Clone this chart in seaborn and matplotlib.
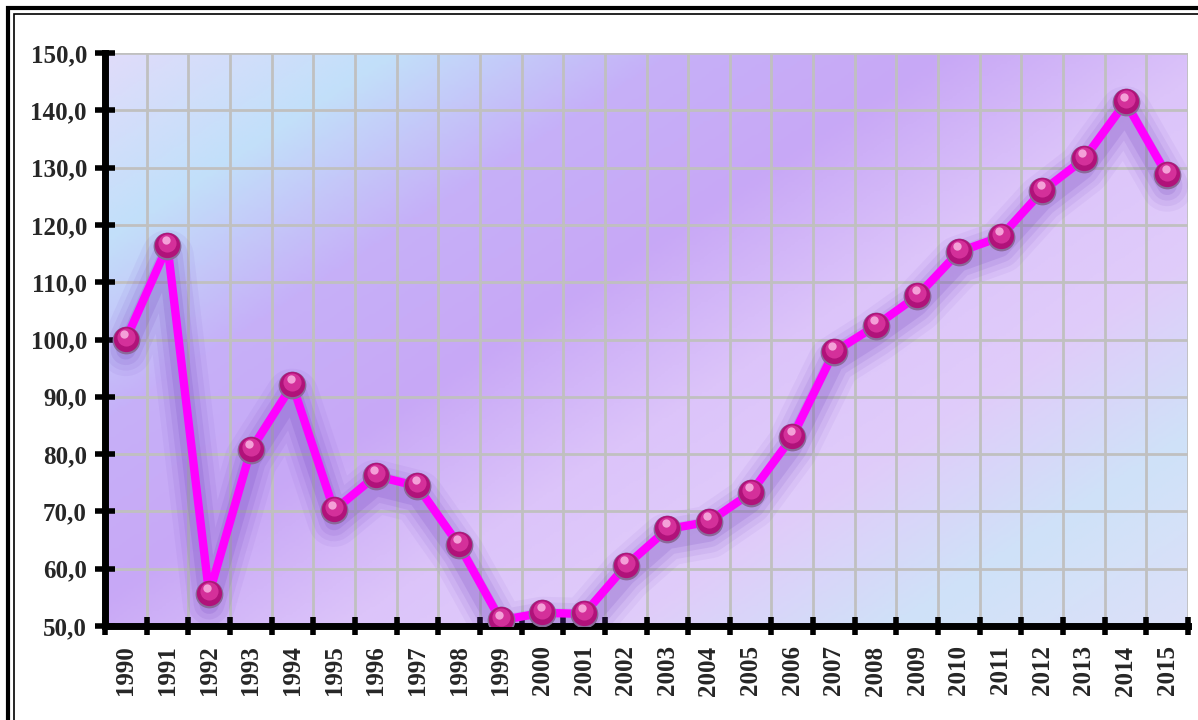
import numpy as np
import pandas as pd
import seaborn as sns
import matplotlib.pyplot as plt
from matplotlib.colors import LinearSegmentedColormap
from matplotlib.patches import Rectangle
from matplotlib.ticker import FixedLocator, FuncFormatter

years = [str(y) for y in range(1990, 2016)]
values = [100.0, 116.3, 55.6, 80.7, 92.1, 70.2, 76.2, 74.4, 64.1, 51.0,
          52.3, 52.1, 60.5, 66.9, 68.2, 73.2, 83.0, 97.8, 102.4, 107.6,
          115.3, 117.9, 125.9, 131.5, 141.4, 128.7]

df = pd.DataFrame({"year": years, "value": values, "pos": np.arange(len(years))})

sns.set_style("white")
plt.rcParams["font.family"] = ["Liberation Serif", "DejaVu Serif"]

fig = plt.figure(figsize=(11.98, 7.2), dpi=100)
ax = fig.add_axes([105 / 1198, 94 / 720, 1083 / 1198, 573 / 720])

# gradient background
bg_cmap = LinearSegmentedColormap.from_list(
    "bg", ["#e0dcfa", "#c2e0fa", "#c6b0f8", "#c8a8f6", "#dcc4fa", "#e0ccfa", "#cfe2f8", "#dce0f8"])
gx, gy = np.meshgrid(np.linspace(0, 1, 300), np.linspace(1, 0, 200))
grad = 0.55 * gx + 0.45 * (1 - gy)
ax.imshow(grad, cmap=bg_cmap, extent=[-0.5, 25.5, 50, 150], aspect="auto", zorder=0)

# soft glow behind line
for lw, a in [(38, 0.06), (30, 0.08), (22, 0.10), (14, 0.14)]:
    ax.plot(df["pos"], df["value"] - 1.8, color="#6a38b8", lw=lw, alpha=a,
            solid_capstyle="round", solid_joinstyle="round", zorder=2)

sns.lineplot(data=df, x="pos", y="value", color="#ff00ff", lw=6, ax=ax, zorder=3)

# sphere markers
ax.scatter(df["pos"], df["value"], s=400, color="#8a6a9a", zorder=4, linewidths=0)
ax.scatter(df["pos"], df["value"] + 0.15, s=330, color="#b0127a", zorder=5, linewidths=0)
ax.scatter(df["pos"], df["value"] + 0.5, s=170, color="#d4309a", zorder=6, linewidths=0)
ax.scatter(df["pos"] - 0.04, df["value"] + 1.0, s=36, color="#f4a0d8", zorder=7, linewidths=0)

ax.set_xlim(-0.5, 25.5)
ax.set_ylim(50, 150)

ax.xaxis.set_major_locator(FixedLocator(np.arange(len(years))))
ax.set_xticklabels(years, rotation=90, fontsize=18, fontweight="bold")
ax.xaxis.set_minor_locator(FixedLocator(np.arange(-0.5, 26, 1)))
ax.set_yticks(np.arange(50, 151, 10))
ax.yaxis.set_major_formatter(FuncFormatter(lambda v, p: f"{v:.1f}".replace(".", ",")))
for lab in ax.get_yticklabels():
    lab.set_fontsize(18)
    lab.set_fontweight("bold")

ax.tick_params(axis="x", which="major", bottom=True, length=0, pad=14)
ax.tick_params(axis="x", which="minor", bottom=True, length=13, width=4,
               direction="inout", color="black")
ax.tick_params(axis="y", which="major", left=True, length=14, width=4,
               direction="inout", color="black", pad=6)
ax.set_xlabel("")
ax.set_ylabel("")

ax.grid(True, which="minor", axis="x", color="#c0c0c0", lw=2)
ax.grid(True, which="major", axis="y", color="#c0c0c0", lw=2)
ax.grid(False, which="major", axis="x")
ax.set_axisbelow(True)

for side in ["top", "right"]:
    ax.spines[side].set_visible(False)
for side in ["left", "bottom"]:
    ax.spines[side].set_linewidth(5)
    ax.spines[side].set_color("black")

# double frame around figure
fig.patches.append(Rectangle((8 / 1198, -0.02), 1.2, 1.0 - 8 / 720 + 0.02, transform=fig.transFigure,
                             fill=False, lw=3, ec="black"))
fig.patches.append(Rectangle((14 / 1198, -0.02), 1.2, 1.0 - 14 / 720 + 0.02, transform=fig.transFigure,
                             fill=False, lw=1.2, ec="black"))

fig.savefig("out.png", dpi=100)
